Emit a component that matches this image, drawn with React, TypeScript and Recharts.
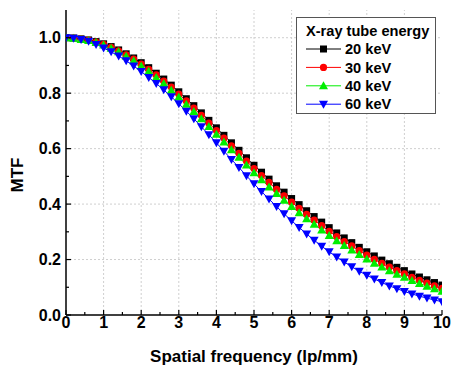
import { Label, Legend, Line, LineChart, ReferenceLine, XAxis, YAxis } from "recharts";

const freq = [
  0, 0.2, 0.4, 0.6, 0.8, 1, 1.2, 1.4, 1.6, 1.8, 2, 2.2, 2.4, 2.6, 2.8, 3, 3.2, 3.4, 3.6, 3.8, 4,
  4.2, 4.4, 4.6, 4.8, 5, 5.2, 5.4, 5.6, 5.8, 6, 6.2, 6.4, 6.6, 6.8, 7, 7.2, 7.4, 7.6, 7.8, 8,
  8.2, 8.4, 8.6, 8.8, 9, 9.2, 9.4, 9.6, 9.8, 10,
];

const mtf20 = [
  1.0, 0.999, 0.996, 0.992, 0.986, 0.978, 0.968, 0.956, 0.942, 0.927, 0.91, 0.892, 0.872, 0.851,
  0.829, 0.805, 0.78, 0.755, 0.729, 0.702, 0.675, 0.648, 0.621, 0.594, 0.567, 0.54, 0.515, 0.49,
  0.466, 0.443, 0.42, 0.398, 0.376, 0.355, 0.335, 0.315, 0.296, 0.278, 0.261, 0.244, 0.228, 0.213,
  0.198, 0.185, 0.172, 0.16, 0.148, 0.137, 0.127, 0.117, 0.108,
];

const mtf30 = [
  1.0, 0.999, 0.995, 0.991, 0.984, 0.976, 0.965, 0.953, 0.938, 0.923, 0.905, 0.886, 0.866, 0.844,
  0.822, 0.797, 0.772, 0.746, 0.72, 0.692, 0.665, 0.638, 0.61, 0.583, 0.555, 0.528, 0.503, 0.478,
  0.453, 0.43, 0.407, 0.385, 0.363, 0.342, 0.322, 0.302, 0.283, 0.265, 0.249, 0.232, 0.216, 0.201,
  0.186, 0.173, 0.16, 0.148, 0.136, 0.125, 0.115, 0.105, 0.096,
];

const mtf40 = [
  1.0, 0.998, 0.994, 0.99, 0.983, 0.974, 0.962, 0.949, 0.933, 0.917, 0.898, 0.879, 0.857, 0.835,
  0.811, 0.786, 0.76, 0.734, 0.708, 0.68, 0.652, 0.624, 0.596, 0.569, 0.541, 0.513, 0.488, 0.462,
  0.438, 0.414, 0.391, 0.369, 0.347, 0.327, 0.307, 0.287, 0.268, 0.251, 0.234, 0.218, 0.202, 0.187,
  0.173, 0.16, 0.147, 0.136, 0.124, 0.114, 0.104, 0.095, 0.086,
];

const mtf60 = [
  1.0, 0.998, 0.994, 0.987, 0.976, 0.963, 0.949, 0.934, 0.917, 0.898, 0.878, 0.857, 0.835, 0.812,
  0.787, 0.762, 0.735, 0.708, 0.679, 0.65, 0.621, 0.591, 0.561, 0.532, 0.502, 0.473, 0.445, 0.418,
  0.391, 0.365, 0.34, 0.316, 0.292, 0.27, 0.248, 0.228, 0.209, 0.191, 0.174, 0.158, 0.143, 0.13,
  0.117, 0.105, 0.095, 0.085, 0.076, 0.068, 0.061, 0.054, 0.048,
];

const xTicks = [0, 0.5, 1, 1.5, 2, 2.5, 3, 3.5, 4, 4.5, 5, 5.5, 6, 6.5, 7, 7.5, 8, 8.5, 9, 9.5, 10];
const yTicks = [0, 0.1, 0.2, 0.3, 0.4, 0.5, 0.6, 0.7, 0.8, 0.9, 1.0];
const xGrid = [1, 2, 3, 4, 5, 6, 7, 8, 9];
const yGrid = [0.2, 0.4, 0.6, 0.8, 1.0];

const series = [
  { key: "e20", name: "20 keV", color: "#000000", shape: "square" },
  { key: "e30", name: "30 keV", color: "#ff0000", shape: "circle" },
  { key: "e40", name: "40 keV", color: "#00ee00", shape: "up" },
  { key: "e60", name: "60 keV", color: "#0000ff", shape: "down" },
];

const data = freq.map((f, i) => ({
  f,
  e20: mtf20[i],
  e30: mtf30[i],
  e40: mtf40[i],
  e60: mtf60[i],
}));

const FONT = "'Liberation Sans', Arial, sans-serif";

function Marker({ cx, cy, shape, color }: any) {
  if (cx == null || cy == null) return null;
  if (shape === "square")
    return <rect x={cx - 3.5} y={cy - 3.5} width={7} height={7} fill={color} />;
  if (shape === "circle") return <circle cx={cx} cy={cy} r={3.6} fill={color} />;
  if (shape === "up")
    return (
      <polygon
        points={`${cx},${cy - 4.5} ${cx - 4.5},${cy + 3.5} ${cx + 4.5},${cy + 3.5}`}
        fill={color}
      />
    );
  return (
    <polygon
      points={`${cx},${cy + 4.5} ${cx - 4.5},${cy - 3.5} ${cx + 4.5},${cy - 3.5}`}
      fill={color}
    />
  );
}

const isMajorY = (v: number) => Math.abs(v * 5 - Math.round(v * 5)) < 1e-6;

function BottomTick({ x, y, payload }: any) {
  const v = payload.value;
  const major = Number.isInteger(v);
  const axisY = y - 2;
  return (
    <g>
      <line x1={x} x2={x} y1={axisY} y2={axisY - (major ? 5 : 3)} stroke="#000" strokeWidth={1.2} />
      {major && (
        <text x={x} y={y} dy="0.71em" textAnchor="middle" fontFamily={FONT} fontWeight="bold" fontSize={16} fill="#000">
          {v}
        </text>
      )}
    </g>
  );
}

function TopTick({ x, y, payload }: any) {
  const major = Number.isInteger(payload.value);
  return <line x1={x} x2={x} y1={y} y2={y + (major ? 5 : 3)} stroke="#000" strokeWidth={1.2} />;
}

function LeftTick({ x, y, payload }: any) {
  const v = payload.value;
  const major = isMajorY(v);
  const axisX = x + 5;
  return (
    <g>
      <line x1={axisX} x2={axisX + (major ? 5 : 3)} y1={y} y2={y} stroke="#000" strokeWidth={1.2} />
      {major && (
        <text x={x} y={y} dy="0.36em" textAnchor="end" fontFamily={FONT} fontWeight="bold" fontSize={16} fill="#000">
          {v.toFixed(1)}
        </text>
      )}
    </g>
  );
}

function RightTick({ x, y, payload }: any) {
  const major = isMajorY(payload.value);
  return <line x1={x} x2={x - (major ? 5 : 3)} y1={y} y2={y} stroke="#000" strokeWidth={1.2} />;
}

function XTitle() {
  return (
    <text x={254} y={362} textAnchor="middle" fontFamily={FONT} fontWeight="bold" fontSize={17} fill="#000">
      Spatial frequency (lp/mm)
    </text>
  );
}

function YTitle() {
  return (
    <text
      x={17}
      y={175}
      transform="rotate(-90 17 175)"
      dy="0.36em"
      textAnchor="middle"
      fontFamily={FONT}
      fontWeight="bold"
      fontSize={17}
      fill="#000"
    >
      MTF
    </text>
  );
}

function LegendBox() {
  return (
    <div
      style={{
        width: 140,
        height: 97,
        boxSizing: "border-box",
        border: "1px solid #555",
        background: "#fff",
      }}
    >
      <svg width={138} height={95} style={{ display: "block" }}>
        <text x={9} y={17.5} fontFamily={FONT} fontWeight="bold" fontSize={14.6} fill="#000">
          X-ray tube energy
        </text>
        {series.map((s, i) => {
          const cy = 31 + i * 18.4;
          return (
            <g key={s.key}>
              <line x1={9} x2={44} y1={cy} y2={cy} stroke={s.color} strokeWidth={1} />
              <Marker cx={26.5} cy={cy} shape={s.shape} color={s.color} />
              <text x={48} y={cy} dy="0.36em" fontFamily={FONT} fontWeight="bold" fontSize={14.6} fill="#000">
                {s.name}
              </text>
            </g>
          );
        })}
      </svg>
    </div>
  );
}

export default function App() {
  return (
    <div style={{ position: "absolute", left: 0, top: 0, width: 451, height: 369, background: "#fff" }}>
      <LineChart width={451} height={369} data={data} margin={{ top: 10, right: 9, bottom: 0, left: 0 }}>
        <XAxis
          dataKey="f"
          type="number"
          domain={[0, 10]}
          ticks={xTicks}
          interval={0}
          allowDataOverflow
          height={54}
          tickSize={0}
          tickMargin={2}
          tickLine={false}
          tick={<BottomTick />}
          axisLine={{ stroke: "#000", strokeWidth: 1.5 }}
          label={<XTitle />}
        />
        <XAxis
          xAxisId="top"
          orientation="top"
          dataKey="f"
          type="number"
          domain={[0, 10]}
          ticks={xTicks}
          interval={0}
          allowDataOverflow
          height={0}
          tickSize={0}
          tickMargin={0}
          tickLine={false}
          tick={<TopTick />}
          axisLine={{ stroke: "#000", strokeWidth: 1.5 }}
        />
        <YAxis
          type="number"
          domain={[0, 1.1]}
          ticks={yTicks}
          interval={0}
          allowDataOverflow
          width={66}
          tickSize={0}
          tickMargin={5}
          tickLine={false}
          tick={<LeftTick />}
          axisLine={{ stroke: "#000", strokeWidth: 1.5 }}
          label={<YTitle />}
        />
        <YAxis
          yAxisId="right"
          orientation="right"
          type="number"
          domain={[0, 1.1]}
          ticks={yTicks}
          interval={0}
          allowDataOverflow
          width={0}
          tickSize={0}
          tickMargin={0}
          tickLine={false}
          tick={<RightTick />}
          axisLine={{ stroke: "#000", strokeWidth: 1.5 }}
        />
        {xGrid.map((v) => (
          <ReferenceLine key={`gx${v}`} x={v} stroke="#cfcfcf" strokeDasharray="2 2" />
        ))}
        {yGrid.map((v) => (
          <ReferenceLine key={`gy${v}`} y={v} stroke="#cfcfcf" strokeDasharray="2 2" />
        ))}
        {series.map((s) => (
          <Line
            key={s.key}
            dataKey={s.key}
            name={s.name}
            type="linear"
            stroke={s.color}
            strokeWidth={1}
            isAnimationActive={false}
            dot={(p: any) => <Marker key={`${s.key}-${p.index}`} cx={p.cx} cy={p.cy} shape={s.shape} color={s.color} />}
            activeDot={false}
          />
        ))}
        <Legend
          layout="vertical"
          align="center"
          verticalAlign="middle"
          wrapperStyle={{ left: 296, top: 17, width: 140, height: 97 }}
          content={() => <LegendBox />}
        />
      </LineChart>
    </div>
  );
}
